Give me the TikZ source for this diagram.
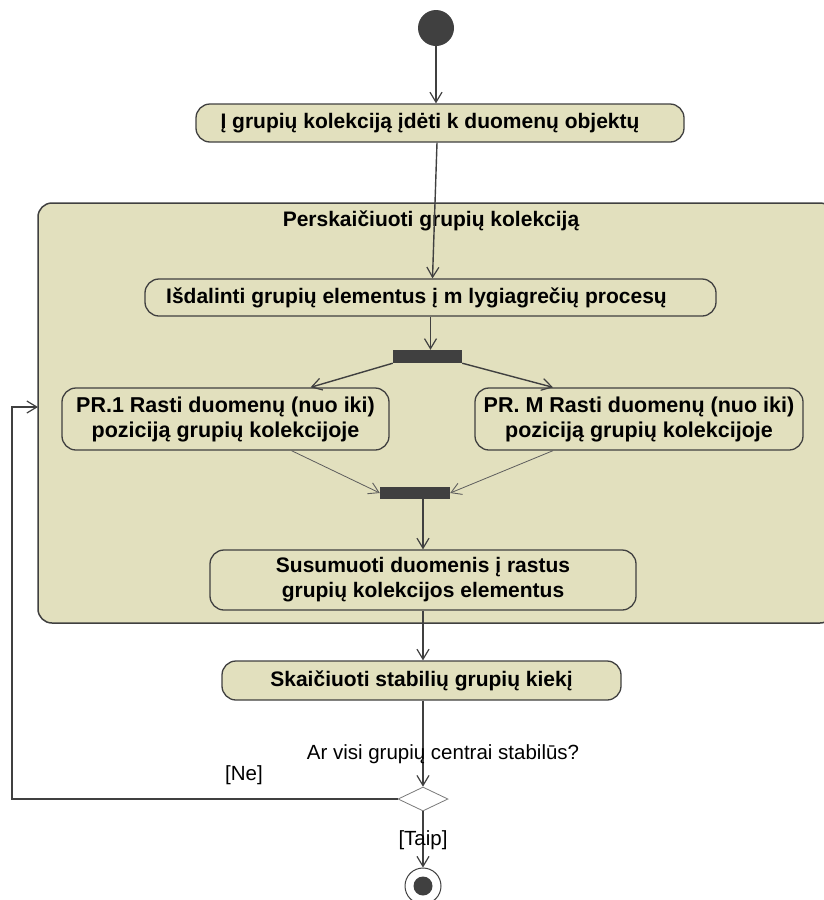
\documentclass[tikz,border=0pt]{standalone}
\usepackage{fontspec}
\setmainfont{Liberation Sans}
\usetikzlibrary{arrows.meta,shapes.geometric,calc}
\definecolor{actfill}{HTML}{E2E0BE}
\definecolor{ink}{HTML}{404040}
\tikzset{
  action/.style={draw=ink, line width=1.3pt, fill=actfill, rounded corners=14pt,
    minimum width=#1, inner sep=0pt, font=\fontsize{21}{25}\selectfont\bfseries, align=center},
  bar/.style={fill=ink, draw=none, minimum width=70pt, minimum height=13pt, inner sep=0pt},
  flow/.style={draw=ink, line width=1.4pt, -{Straight Barb[length=10pt,width=12pt,line width=1.2pt]}},
  thinflow/.style={draw=ink!85, line width=0.8pt, -{Straight Barb[length=10pt,width=12pt,line width=0.9pt]}},
  guard/.style={font=\fontsize{20.5}{24}\selectfont, inner sep=0pt},
}
\begin{document}
\begin{tikzpicture}[x=1pt,y=-1pt]
\useasboundingbox (0,0) rectangle (823,900);

% composite activity
\draw[ink, line width=1.5pt, fill=actfill, rounded corners=14pt] (38,203) rectangle (834,623);
\node[font=\fontsize{21}{24}\selectfont\bfseries] (title) at (431,221) {Perskaičiuoti grupių kolekciją};

% nodes
\node[circle, fill=ink, minimum size=36pt, inner sep=0pt] (init) at (436,28) {};
\node[action=488pt, minimum height=38pt] (a1) at (440,123) {Į grupių kolekciją įdėti k duomenų objektų\hspace*{20pt}};
\node[action=571pt, minimum height=37pt] (a2) at (430.5,297.5) {Išdalinti grupių elementus į m lygiagrečių procesų\hspace*{28pt}};
\node[bar, minimum width=69pt] (fork) at (427.5,356.5) {};
\node[action=327pt, minimum height=62pt, font=\fontsize{21.5}{25}\selectfont\bfseries] (pr1) at (225.5,419) {PR.1 Rasti duomenų (nuo iki)\\poziciją grupių kolekcijoje};
\node[action=328pt, minimum height=62pt, font=\fontsize{21.5}{25}\selectfont\bfseries] (prm) at (639,419) {PR. M Rasti duomenų (nuo iki)\\poziciją grupių kolekcijoje};
\node[bar, minimum height=12pt] (join) at (415,493) {};
\node[action=426pt, minimum height=60pt] (a3) at (423,580) {Susumuoti duomenis į rastus\\grupių kolekcijos elementus};
\node[action=399pt, minimum height=39pt] (a4) at (421.5,680.5) {Skaičiuoti stabilių grupių kiekį};
\node[diamond, draw=ink!70, fill=white, line width=0.8pt, minimum width=50pt, minimum height=24pt, inner sep=0pt] (dec) at (423,799) {};
\node[circle, draw=ink, fill=white, line width=1pt, minimum size=36pt, inner sep=0pt] (fin) at (423,886) {};
\node[circle, fill=ink, minimum size=19pt, inner sep=0pt] at (fin) {};

% connectors
\draw[flow] (init.south) -- (init.south |- a1.north);
\draw[flow] ([xshift=-3pt]a1.south) -- ([xshift=2pt]a2.north);
\draw[flow] (a2.south) -- (a2.south |- fork.north);
\draw[flow] (fork.south west) -- ($(pr1.north)+(85,0)$);
\draw[flow] (fork.south east) -- ($(prm.north)+(-86,0)$);
\draw[thinflow] ($(pr1.south)+(66,0)$) -- (join.west);
\draw[thinflow] ($(prm.south)+(-86,0)$) -- (join.east);
\draw[flow] (join.south -| a3.north) -- (a3.north);
\draw[flow] (a3.south) -- (a3.south |- a4.north);
\draw[flow] (dec.north |- a4.south) -- (dec.north)
  node[pos=0.62, anchor=center, xshift=20pt, guard] {Ar visi grupių centrai stabilūs?};
\draw[flow] (dec.south) -- (fin.north)
  node[pos=0.52, guard] {[Taip]};
\coordinate (loopbot) at (12,799);
\coordinate (looptop) at (12,407);
\draw[flow] (dec.west) -- (loopbot) -- (looptop) -- (38,407);
\node[guard] (ne) at (244,775) {[Ne]};
\end{tikzpicture}
\end{document}
